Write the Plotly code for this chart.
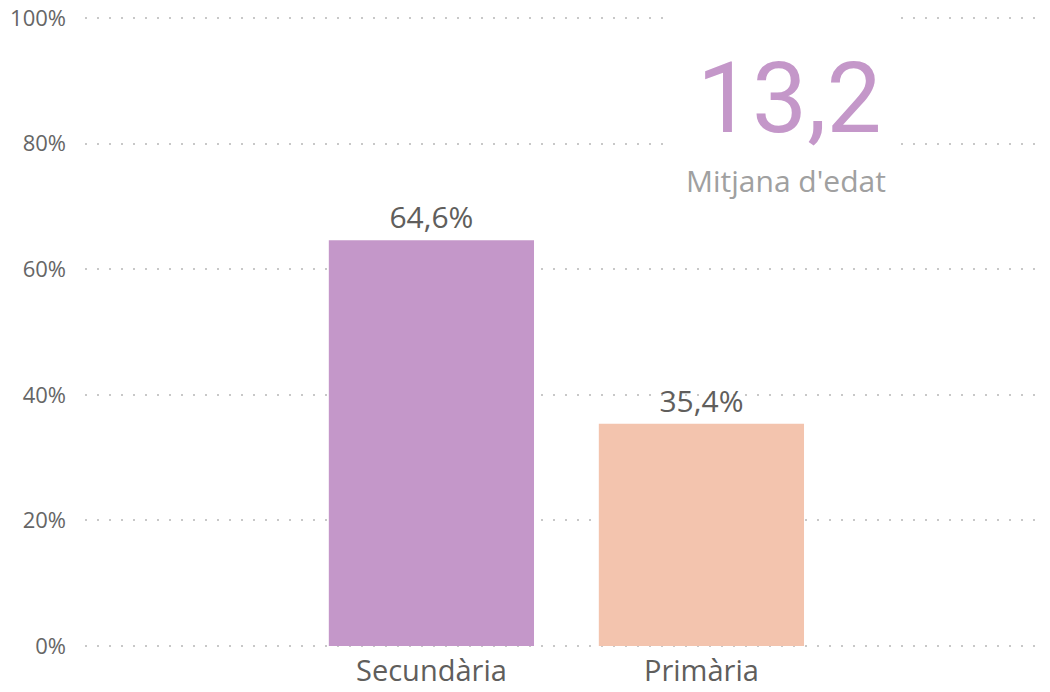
import plotly.graph_objects as go

categories = ["Secundària", "Primària"]
percentages = [64.6, 35.4]
bar_colors = ["#C497C9", "#F3C4AE"]
y_ticks = [0, 20, 40, 60, 80, 100]
y_tick_labels = ["0%", "20%", "40%", "60%", "80%", "100%"]
kpi_value = "13,2"
kpi_label = "Mitjana d'edat"

fig = go.Figure(go.Bar(
    x=categories,
    y=percentages,
    marker=dict(color=bar_colors, line_width=0),
    width=0.76,
    texttemplate="%{y:.1f}%",
    textposition="outside",
    textfont=dict(size=30, color="#605E5C", family="Open Sans"),
    cliponaxis=False,
))

# card behind the KPI hides the gridlines there
fig.add_shape(type="rect", xref="paper", yref="paper",
              x0=0.607, x1=0.851, y0=0.78, y1=1.02,
              fillcolor="white", line_width=0, layer="above")

fig.add_annotation(text=kpi_value, xref="paper", yref="paper",
                   x=0.738, y=0.870, xanchor="center", yanchor="middle",
                   showarrow=False,
                   font=dict(size=98, color="#C497C9", family="Roboto"))
fig.add_annotation(text=kpi_label, xref="paper", yref="paper",
                   x=0.734, y=0.7405, xanchor="center", yanchor="middle",
                   showarrow=False,
                   font=dict(size=30, color="#A0A0A0", family="Open Sans"))

fig.update_layout(
    width=1050, height=692,
    margin=dict(l=85, r=10, t=16, b=44),
    paper_bgcolor="white", plot_bgcolor="white",
    separators=",.",
    showlegend=False,
    font=dict(family="Open Sans", color="#666666"),
    xaxis=dict(range=[-1.283, 2.254], showgrid=False, showline=False,
               ticks="", tickfont=dict(size=29, color="#605E5C"),
               ticklabelstandoff=3, automargin=False),
    yaxis=dict(range=[-0.3, 100.3], tickvals=y_ticks, ticktext=y_tick_labels,
               showgrid=True, gridcolor="#C8C8C8", gridwidth=1.5,
               griddash="2px,10px", zeroline=False, showline=False,
               ticks="", tickfont=dict(size=22, color="#666666"),
               ticklabelstandoff=18, automargin=False),
)

fig.write_html("out.html", config={"displayModeBar": False},
               post_script="document.body.style.margin='0';")
